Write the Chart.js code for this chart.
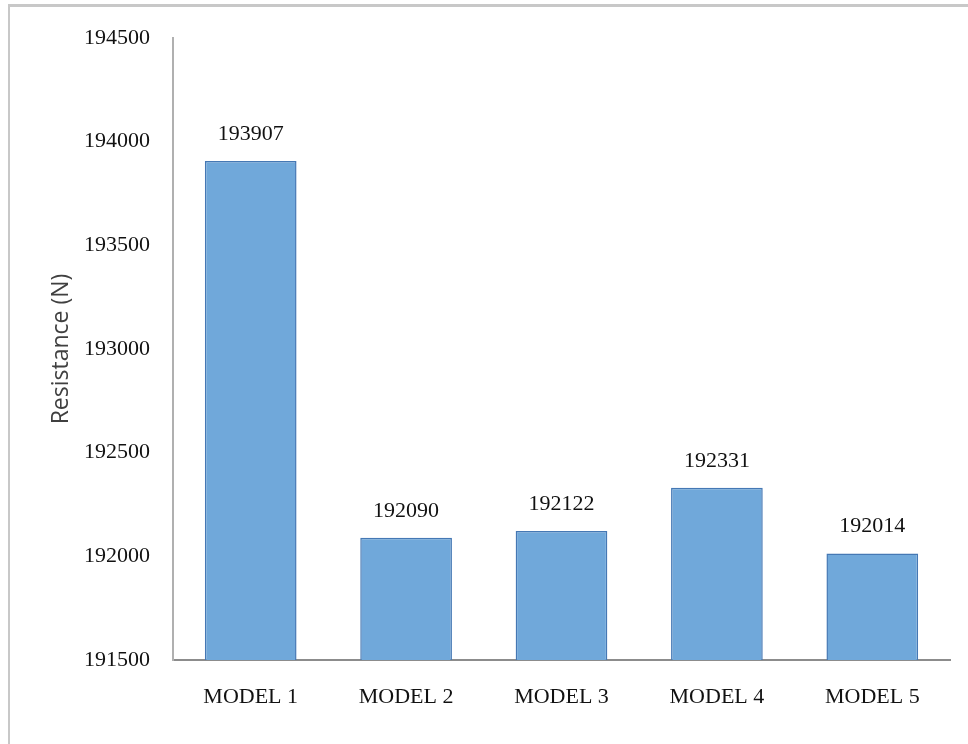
<!DOCTYPE html>
<html lang="en">
<head>
  <meta charset="UTF-8" />
  <title>Resistance by model</title>
  <script src="https://cdn.jsdelivr.net/npm/chart.js"></script>
  <style>
    html, body { margin: 0; padding: 0; background: #fff; }
    #wrap { position: relative; width: 968px; height: 744px; }
    #frame { position: absolute; left: 8px; top: 4px; right: 0; bottom: 0;
             border-top: 3px solid #c8c8c8; border-left: 2px solid #c8c8c8; pointer-events: none; }
    canvas { position: absolute; left: 0; top: 0; }
  </style>
</head>
<body>
  <div id="wrap">
    <canvas id="chart" width="968" height="744"></canvas>
    <div id="frame"></div>
  </div>

  <script>
    const models = ["MODEL 1", "MODEL 2", "MODEL 3", "MODEL 4", "MODEL 5"];
    const resistance = [193907, 192090, 192122, 192331, 192014];
    const yMin = 191500;
    const yMax = 194500;
    const yStep = 500;

    const serif = "'Liberation Serif', 'Times New Roman', serif";

    // value printed above each bar
    const barValues = {
      id: "barValues",
      afterDatasetsDraw(chart) {
        const ctx = chart.ctx;
        const meta = chart.getDatasetMeta(0);
        ctx.save();
        ctx.font = "22px " + serif;
        ctx.fillStyle = "#111";
        ctx.textAlign = "center";
        ctx.textBaseline = "alphabetic";
        meta.data.forEach((bar, i) => {
          ctx.fillText(String(resistance[i]), bar.x, bar.y - 21);
        });
        ctx.restore();
      }
    };

    new Chart(document.getElementById("chart"), {
      type: "bar",
      data: {
        labels: models,
        datasets: [{
          data: resistance,
          backgroundColor: "#70a8da",
          borderColor: "#4578b4",
          borderWidth: 1.5,
          categoryPercentage: 1,
          barPercentage: 0.59
        }]
      },
      options: {
        responsive: false,
        animation: false,
        layout: { padding: { left: 0, top: 38, right: 18, bottom: 0 } },
        plugins: {
          legend: { display: false },
          tooltip: { enabled: false }
        },
        scales: {
          x: {
            grid: { display: false, drawTicks: false },
            border: { display: true, color: "#8c8c8c", width: 2 },
            ticks: { font: { family: serif, size: 22 }, color: "#111", padding: 24 },
            afterFit: s => { s.height = 84; }
          },
          y: {
            min: yMin,
            max: yMax,
            grid: { display: false, drawTicks: false },
            border: { display: true, color: "#b0b0b0", width: 2 },
            ticks: {
              stepSize: yStep,
              font: { family: serif, size: 22 },
              color: "#111",
              padding: 23,
              callback: v => String(v)
            },
            title: {
              display: true,
              text: "Resistance (N)",
              font: { family: "'Open Sans', sans-serif", size: 23 },
              color: "#404040",
              padding: { top: 48, bottom: 0 }
            },
            afterFit: s => { s.width = 173; }
          }
        }
      },
      plugins: [barValues]
    });
  </script>
</body>
</html>
